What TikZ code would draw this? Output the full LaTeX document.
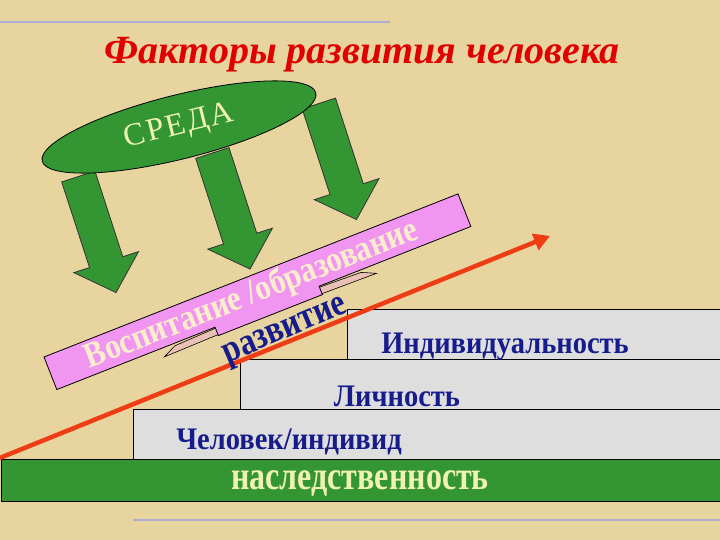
\documentclass[tikz,border=0pt]{standalone}
\usepackage{fontspec}
\setmainfont{Liberation Serif}
\usetikzlibrary{positioning}
\usetikzlibrary{calc}
\usetikzlibrary{arrows.meta}
\usetikzlibrary{shapes.geometric}

\definecolor{fon}{RGB}{232,212,158}
\definecolor{zelen}{RGB}{51,150,51}
\definecolor{svetl}{RGB}{240,242,180}
\definecolor{krem}{RGB}{252,238,205}
\definecolor{sinij}{RGB}{22,28,140}
\definecolor{rozov}{RGB}{240,150,240}
\definecolor{krasn}{RGB}{238,60,20}
\definecolor{seryj}{RGB}{222,222,222}
\definecolor{liniya}{RGB}{172,172,212}

\tikzset{
    stupen/.style={draw=black, fill=seryj, line width=0.8pt, anchor=south west, minimum height=50pt, inner sep=0pt},
    stuptxt/.style={text=sinij, inner sep=1pt, yscale=1.1, font=\bfseries\fontsize{28.5}{28.5}\selectfont},
    strelka/.pic={\draw[fill=zelen, draw=black!80, line width=0.8pt] (-62,-17.5) -- (28,-17.5) -- (28,-34) -- (60,0) -- (28,34) -- (28,17.5) -- (-62,17.5) -- cycle;}
}

\begin{document}
\begin{tikzpicture}[x=1pt, y=-1pt, text centered]
        \useasboundingbox (0,0) rectangle (720,540);
        \fill[fon] (0,0) rectangle (720,540);
        \draw[liniya, line width=2.5pt] (0,22) -- (390,22);
        \draw[liniya, line width=2.5pt] (133,520) -- (720,520);

        \node[text=red!88!black, font=\bfseries\itshape\fontsize{40}{40}\selectfont] (zagolovok) at (362,55) {Факторы развития человека};

        % sreda
        \pic[rotate=-72] at (97.5,235.5) {strelka};
        \pic[rotate=-72] at (231.5,212) {strelka};
        \pic[rotate=-72] at (338,162.5) {strelka};
        \node[ellipse, draw=black, line width=0.8pt, fill=zelen, minimum width=282pt, minimum height=64pt, rotate=14, text=svetl, font=\fontsize{32}{32}\selectfont] (sreda) at (179,127) {С\kern2ptР\kern2ptЕ\kern2ptД\kern2ptА};

        % lenta
        \begin{scope}[shift={(44,357)}, rotate=21.5]
            \draw[fill=rozov, line width=0.8pt] (0,0) -- (445,0) -- (445,35) -- (282,35) -- (282,44) -- (170,44) -- (170,35) -- (0,35) -- cycle;
            \draw[fill=fon!70!rozov, line width=0.6pt] (170,36) -- (170,43) -- (112,44) -- (126,37.5) -- cycle;
            \draw[fill=fon!70!rozov, line width=0.6pt] (282,36) -- (282,43) -- (340,44) -- (326,37.5) -- cycle;
            \node[transform shape, yscale=1.15, inner sep=0pt, text=krem, font=\bfseries\fontsize{31}{31}\selectfont] (vospitanie) at (216,18.5) {Воспитание /образование};
        \end{scope}

        % stupeni
        \node[stupen, minimum width=500pt] (indiv_box) at (347,360) {};
        \node[stupen, minimum width=600pt] (lich_box) at (240,410) {};
        \node[stupen, minimum width=700pt] (chel_box) at (133,460) {};
        \node[stupen, fill=zelen, minimum width=730pt, minimum height=42pt] (nasl_box) at (1,502) {};

        \node[stuptxt] (individ) at ($(indiv_box.south west)+(158,-13)$) {Индивидуальность};
        \node[stuptxt] (lichnost) at ($(lich_box.south west)+(157,-14)$) {Личность};
        \node[stuptxt] (chelovek) at ($(chel_box.south west)+(156,-18)$) {Человек/индивид};
        \node[text=svetl, inner sep=1pt, yscale=1.25, font=\bfseries\fontsize{32}{32}\selectfont] (nasled) at ($(nasl_box.south west)+(359,-18)$) {наследственность};

        % razvitie
        \coordinate (razv_nach) at (-4,459.5);
        \coordinate (razv_kon) at (550,236);
        \draw[krasn, line width=4.5pt, -{Triangle[length=16pt,width=17pt]}] (razv_nach) -- (razv_kon);
        \node[rotate=23, yscale=1.2, inner sep=0pt, text=sinij, font=\bfseries\fontsize{32}{32}\selectfont] (razvitie) at (286,333) {развитие};
\end{tikzpicture}
\end{document}
